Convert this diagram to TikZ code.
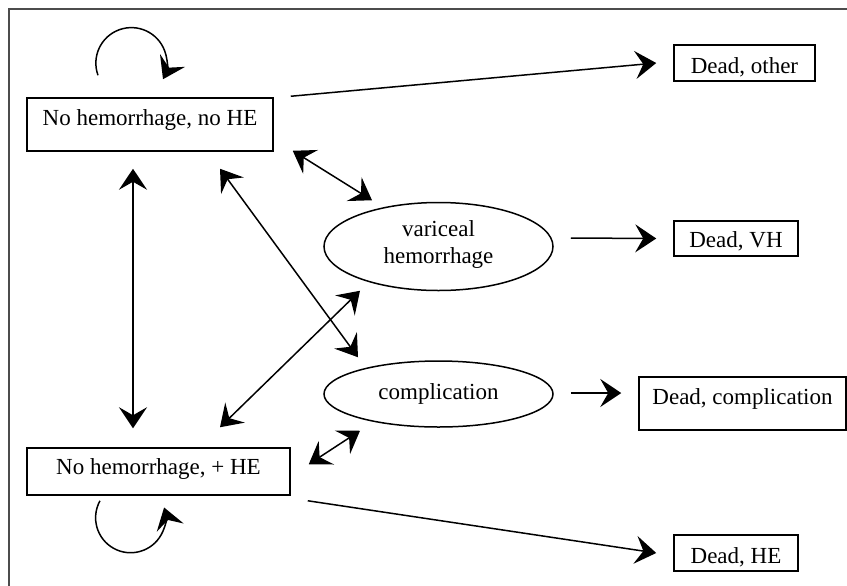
\documentclass[tikz,border=0pt]{standalone}
\usepackage{fontspec}
\setmainfont{Liberation Serif}
\usetikzlibrary{arrows.meta,shapes.geometric}
\tikzset{
  statebox/.style args={#1/#2/#3}{draw, line width=0.75pt, inner sep=0pt, anchor=base,
    minimum width=#1, text height=#2, text depth=#3},
  stage/.style={ellipse, draw, line width=0.75pt, inner sep=0pt, align=center},
  tip/.tip={Stealth[length=10.5pt,width=14pt,inset=4pt]},
  link/.style={line width=0.75pt, -tip},
  twoway/.style={line width=0.75pt, tip-tip}
}
\begin{document}
\begin{tikzpicture}[x=0.5pt, y=-0.5pt, font=\fontsize{11.5}{13.5}\selectfont]
            \useasboundingbox (0,0) rectangle (847,585);
            \clip (0,0) rectangle (847,585);
            \draw[black!70, line width=0.6pt] (9,9) rectangle (870,610);
            \node[statebox=123pt/13.5pt/13pt] (nohe) at (150,125) {No hemorrhage, no HE};
            \node[statebox=131.5pt/13pt/10.5pt] (plushe) at (158.5,474) {No hemorrhage, + HE};
            \node[stage, minimum width=114.5pt, minimum height=44pt] (vh) at (438.5,246.5) {variceal\\hemorrhage\strut};
            \node[stage, minimum width=114.5pt, minimum height=33pt] (comp) at (438.5,394) {complication};
            \node[statebox=70.5pt/14pt/4pt] (dother) at (744.5,73) {Dead, other};
            \node[statebox=62pt/13pt/4.5pt] (dvh) at (736,247) {Dead, VH};
            \node[statebox=103.5pt/13.5pt/13pt] (dcomp) at (742.5,404) {Dead, complication};
            \node[statebox=62pt/14pt/4pt] (dhe) at (736,563) {Dead, HE};
            \draw[link] ([xshift=-26pt,yshift=11pt]nohe.north) arc[start angle=200, end angle=-27, radius=17.75pt];
            \draw[link] ([xshift=-29.25pt,yshift=-2.5pt]plushe.south) arc[start angle=151, end angle=377, radius=17.5pt];
            \draw[link] ([xshift=8.5pt,yshift=0.5pt]nohe.north east) -- ([xshift=-8.5pt]dother.west);
            \draw[link] ([xshift=8.5pt,yshift=4.25pt]vh.east) -- ([xshift=-8.5pt]dvh.west);
            \draw[link] ([xshift=8.5pt,yshift=0.5pt]comp.east) -- ([xshift=-8.5pt,yshift=5.25pt]dcomp.west);
            \draw[link] ([xshift=8.5pt,yshift=-2.5pt]plushe.south east) -- ([xshift=-8.5pt]dhe.west);
            \draw[twoway] ([xshift=-8.5pt,yshift=-8.5pt]nohe.south) -- ([xshift=-12.75pt,yshift=9.5pt]plushe.north);
            \draw[twoway] ([xshift=9.5pt,yshift=0.5pt]nohe.south east) -- ([xshift=-33.25pt,yshift=0.75pt]vh.north);
            \draw[twoway] ([xshift=35pt,yshift=-8.5pt]nohe.south) -- ([xshift=-40.25pt,yshift=1.5pt]comp.north);
            \draw[twoway] ([xshift=30.75pt,yshift=10pt]plushe.north) -- ([xshift=-39.25pt,yshift=0.25pt]vh.south);
            \draw[twoway] ([xshift=9pt,yshift=-8.5pt]plushe.north east) -- ([xshift=-39.25pt,yshift=-1.5pt]comp.south);
        \end{tikzpicture}
\end{document}
